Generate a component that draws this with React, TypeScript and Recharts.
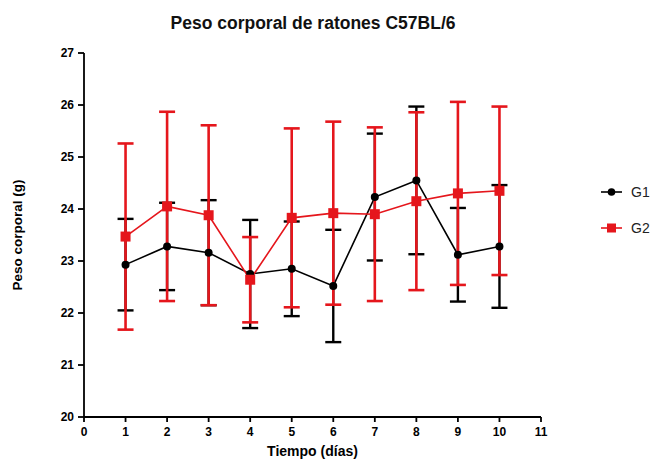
import { ComposedChart, ErrorBar, Line, XAxis, YAxis } from "recharts";

const days = [1, 2, 3, 4, 5, 6, 7, 8, 9, 10];
const g1Mean = [22.93, 23.28, 23.16, 22.75, 22.85, 22.52, 24.23, 24.55, 23.12, 23.28];
const g1Sd = [0.88, 0.84, 1.01, 1.04, 0.91, 1.08, 1.22, 1.42, 0.9, 1.18];
const g2Mean = [23.47, 24.05, 23.88, 22.64, 23.83, 23.92, 23.9, 24.15, 24.3, 24.35];
const g2Sd = [1.79, 1.82, 1.73, 0.82, 1.72, 1.76, 1.67, 1.71, 1.76, 1.62];
const xTicks = [0, 1, 2, 3, 4, 5, 6, 7, 8, 9, 10, 11];
const yTicks = [20, 21, 22, 23, 24, 25, 26, 27];

const RED = "#e5161c";
const BLACK = "#000000";
const FONT = "'Liberation Sans', Arial, sans-serif";

const rows = days.map((d, i) => ({
  day: d,
  g1: g1Mean[i],
  g1Sd: g1Sd[i],
  g2: g2Mean[i],
  g2Sd: g2Sd[i],
}));

const Square = (props: any) => {
  const { cx, cy } = props;
  if (cx == null || cy == null) return null;
  return <rect x={cx - 5} y={cy - 5} width={10} height={10} fill={RED} />;
};

const Dot = (props: any) => {
  const { cx, cy } = props;
  if (cx == null || cy == null) return null;
  return <circle cx={cx} cy={cy} r={4} fill={BLACK} />;
};

function LegendBox() {
  const items = [
    { name: "G1", color: BLACK, square: false },
    { name: "G2", color: RED, square: true },
  ];
  return (
    <svg width={54} height={60} style={{ position: "absolute", left: 600, top: 182 }}>
      {items.map((it, i) => {
        const y = 10 + i * 36;
        return (
          <g key={it.name}>
            <line x1={1} x2={22} y1={y} y2={y} stroke={it.color} strokeWidth={1.6} />
            {it.square ? (
              <rect x={7} y={y - 4.5} width={9} height={9} fill={it.color} />
            ) : (
              <circle cx={11.5} cy={y} r={3.8} fill={it.color} />
            )}
            <text x={31} y={y + 5} fontSize={14} fontFamily={FONT} fill="#222">
              {it.name}
            </text>
          </g>
        );
      })}
    </svg>
  );
}

export default function App() {
  return (
    <div style={{ position: "absolute", left: 0, top: 0, width: 652, height: 459, background: "#fff" }}>
      <div
        style={{
          position: "absolute",
          left: 0,
          top: 13,
          width: 626,
          textAlign: "center",
          fontFamily: FONT,
          fontWeight: "bold",
          fontSize: 17.5,
          color: "#111",
        }}
      >
        Peso corporal de ratones C57BL/6
      </div>
      <ComposedChart
        width={652}
        height={459}
        data={rows}
        margin={{ top: 53, right: 111, bottom: 0, left: 0 }}
      >
        <XAxis
          dataKey="day"
          type="number"
          domain={[0, 11]}
          ticks={xTicks}
          interval={0}
          height={42}
          stroke="#000"
          strokeWidth={1.8}
          tickSize={5}
          tickMargin={5}
          tick={{ fill: "#000", fontSize: 12, fontWeight: "bold", fontFamily: FONT }}
          label={{
            value: "Tiempo (días)",
            position: "insideBottom",
            offset: 3,
            fill: "#000",
            fontSize: 14,
            fontWeight: "bold",
            fontFamily: FONT,
          }}
        />
        <YAxis
          type="number"
          domain={[20, 27]}
          ticks={yTicks}
          interval={0}
          width={84}
          stroke="#000"
          strokeWidth={1.8}
          tickSize={6}
          tickMargin={4}
          tick={{ fill: "#000", fontSize: 12, fontWeight: "bold", fontFamily: FONT }}
          label={{
            value: "Peso corporal (g)",
            angle: -90,
            position: "insideLeft",
            offset: 17,
            fill: "#000",
            fontSize: 13.5,
            fontWeight: "bold",
            fontFamily: FONT,
            style: { textAnchor: "middle" },
          }}
        />
        <Line
          dataKey="g1"
          name="G1"
          stroke={BLACK}
          strokeWidth={1.6}
          dot={<Dot />}
          activeDot={false}
          isAnimationActive={false}
        >
          <ErrorBar dataKey="g1Sd" direction="y" width={8} stroke={BLACK} strokeWidth={2.4} />
        </Line>
        <Line
          dataKey="g2"
          name="G2"
          stroke={RED}
          strokeWidth={1.6}
          dot={<Square />}
          activeDot={false}
          isAnimationActive={false}
        >
          <ErrorBar dataKey="g2Sd" direction="y" width={8} stroke={RED} strokeWidth={2.6} />
        </Line>
      </ComposedChart>
      <LegendBox />
    </div>
  );
}
